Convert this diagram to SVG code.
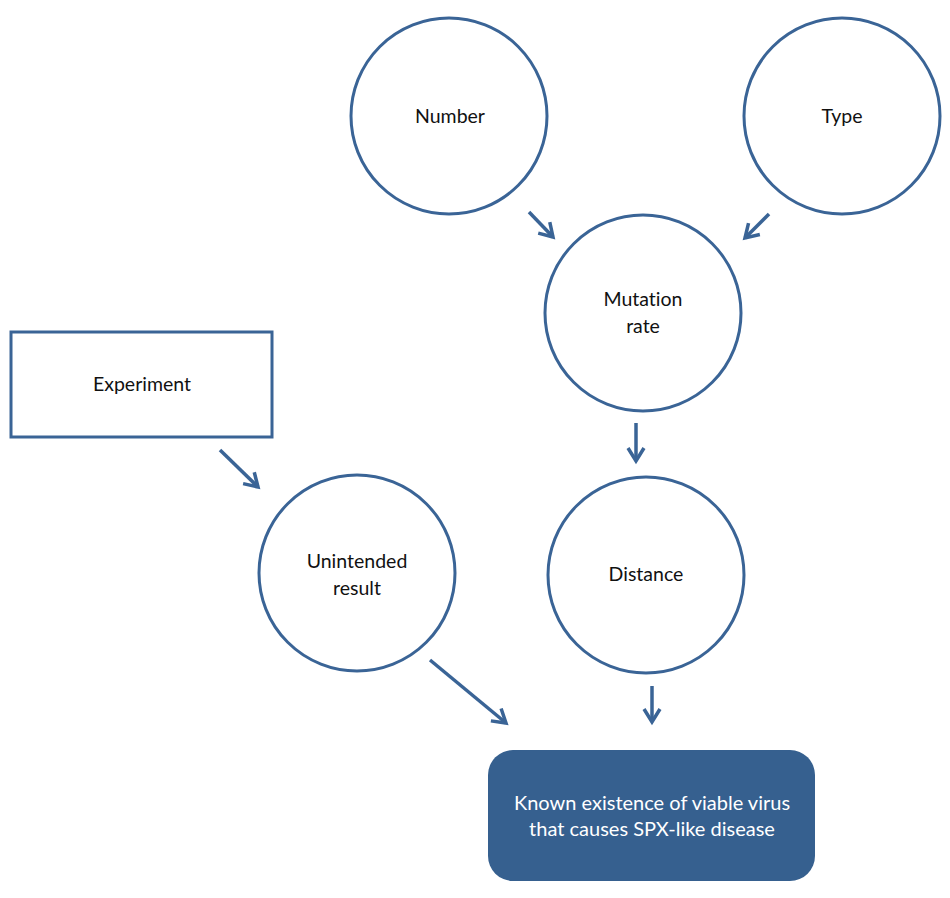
<svg xmlns="http://www.w3.org/2000/svg" width="950" height="898" viewBox="0 0 950 898">
<style>
.node{fill:#fff;stroke:#3a6496;stroke-width:3}
.lbl{font-family:Lato,"Liberation Sans",sans-serif;font-size:19.5px;fill:#111;text-anchor:middle;font-variant-ligatures:none}
.wl{font-family:Lato,"Liberation Sans",sans-serif;font-size:20px;fill:#fff;text-anchor:middle;font-variant-ligatures:none}
.conn{stroke:#3a6496;stroke-width:3.5;fill:none;marker-end:url(#ah)}
</style>
<defs>
<marker id="ah" markerUnits="userSpaceOnUse" viewBox="-16 -10 20 20" refX="0" refY="0" markerWidth="20" markerHeight="20" orient="auto">
<path d="M-13,-8 L0,0 L-13,8" fill="none" stroke="#3a6496" stroke-width="3.5" stroke-linecap="butt"/>
</marker>
</defs>
<rect width="950" height="898" fill="#fff"/>
<g id="number"><circle class="node" cx="449" cy="116" r="98"/><text class="lbl" x="450" y="123">Number</text></g>
<g id="type"><circle class="node" cx="842" cy="116" r="98"/><text class="lbl" x="842" y="123">Type</text></g>
<g id="mutation"><circle class="node" cx="643" cy="313" r="98"/><text class="lbl" x="643" y="306">Mutation</text><text class="lbl" x="643" y="333">rate</text></g>
<g id="experiment"><rect class="node" x="11" y="332" width="261" height="105"/><text class="lbl" x="142" y="391">Experiment</text></g>
<g id="unintended"><circle class="node" cx="357" cy="573" r="98"/><text class="lbl" x="357" y="568">Unintended</text><text class="lbl" x="357" y="595">result</text></g>
<g id="distance"><circle class="node" cx="646" cy="575" r="98"/><text class="lbl" x="646" y="581">Distance</text></g>
<g id="known"><rect x="488" y="750" width="327" height="131" rx="25" fill="#36608f"/><text class="wl" x="652" y="810">Known existence of viable virus</text><text class="wl" x="652" y="836">that causes SPX-like disease</text></g>
<g id="connectors">
<line class="conn" x1="529" y1="212" x2="553" y2="237"/>
<line class="conn" x1="769" y1="214" x2="745" y2="238"/>
<line class="conn" x1="636" y1="423" x2="636" y2="461"/>
<line class="conn" x1="220" y1="450" x2="258" y2="487"/>
<line class="conn" x1="430" y1="660" x2="506" y2="723"/>
<line class="conn" x1="652" y1="686" x2="652" y2="722"/>
</g>
</svg>
